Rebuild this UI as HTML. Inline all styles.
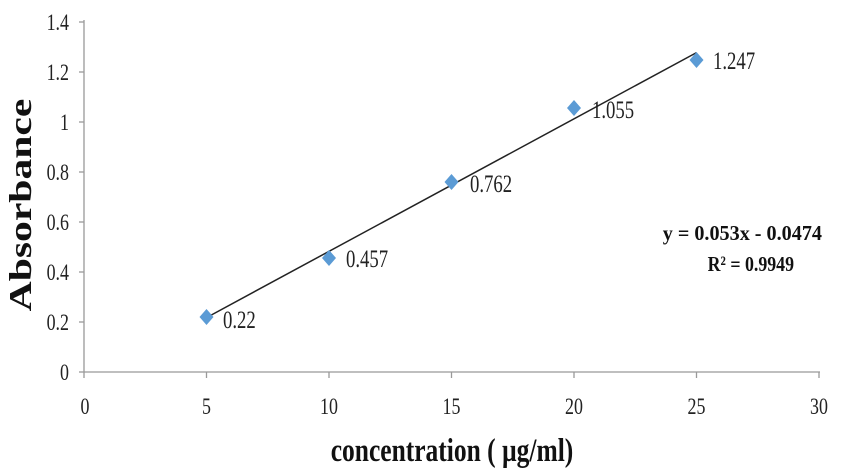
<!DOCTYPE html><html><head><style>body{margin:0;background:#fff}svg text{font-family:"Liberation Serif",serif}</style></head><body>
<svg width="842" height="468" viewBox="0 0 842 468" xmlns="http://www.w3.org/2000/svg">
<g stroke="#999" stroke-width="1.3">
<line x1="84" y1="20" x2="84" y2="372"/><line x1="84" y1="372" x2="820" y2="372"/>
<line x1="79" y1="22" x2="84" y2="22"/><line x1="79" y1="72" x2="84" y2="72"/><line x1="79" y1="122" x2="84" y2="122"/><line x1="79" y1="172" x2="84" y2="172"/><line x1="79" y1="222" x2="84" y2="222"/><line x1="79" y1="272" x2="84" y2="272"/><line x1="79" y1="322" x2="84" y2="322"/><line x1="79" y1="372" x2="84" y2="372"/>
<line x1="84" y1="372" x2="84" y2="378"/><line x1="206.5" y1="372" x2="206.5" y2="378"/><line x1="329" y1="372" x2="329" y2="378"/><line x1="451.5" y1="372" x2="451.5" y2="378"/><line x1="574" y1="372" x2="574" y2="378"/><line x1="696.5" y1="372" x2="696.5" y2="378"/><line x1="819" y1="372" x2="819" y2="378"/>
</g>
<g font-size="23" text-anchor="end" fill="#222">
<text transform="translate(69,30) scale(0.78,1)">1.4</text><text transform="translate(69,80) scale(0.78,1)">1.2</text><text transform="translate(69,130) scale(0.78,1)">1</text><text transform="translate(69,180) scale(0.78,1)">0.8</text><text transform="translate(69,230) scale(0.78,1)">0.6</text><text transform="translate(69,280) scale(0.78,1)">0.4</text><text transform="translate(69,330) scale(0.78,1)">0.2</text><text transform="translate(69,380) scale(0.78,1)">0</text></g>
<g font-size="23" text-anchor="middle" fill="#222">
<text transform="translate(85,414) scale(0.78,1)">0</text><text transform="translate(206.5,414) scale(0.78,1)">5</text><text transform="translate(329,414) scale(0.78,1)">10</text><text transform="translate(451.5,414) scale(0.78,1)">15</text><text transform="translate(574,414) scale(0.78,1)">20</text><text transform="translate(696.5,414) scale(0.78,1)">25</text><text transform="translate(819,414) scale(0.78,1)">30</text></g>
<line x1="206.5" y1="317.6" x2="696.5" y2="52.6" stroke="#222" stroke-width="1.5"/>
<g fill="#5b9bd5">
<path d="M206.5 309 l7 8 -7 8 -7 -8z"/><path d="M329 250 l7 8 -7 8 -7 -8z"/><path d="M451.5 174 l7 8 -7 8 -7 -8z"/><path d="M574 100 l7 8 -7 8 -7 -8z"/><path d="M696.5 52 l7 8 -7 8 -7 -8z"/></g>
<g font-size="25" fill="#222">
<text transform="translate(223,328) scale(0.75,1)">0.22</text><text transform="translate(346,267) scale(0.75,1)">0.457</text><text transform="translate(470,192) scale(0.75,1)">0.762</text><text transform="translate(592,118) scale(0.75,1)">1.055</text><text transform="translate(713,69) scale(0.75,1)">1.247</text></g>
<g font-size="21" font-weight="bold" text-anchor="end" fill="#111">
<text transform="translate(822,240) scale(0.96,1)">y = 0.053x - 0.0474</text><text transform="translate(794,271) scale(0.85,1)">R² = 0.9949</text></g>
<text transform="translate(452,461) scale(0.85,1.1)" font-size="30" font-weight="bold" text-anchor="middle" fill="#111">concentration ( µg/ml)</text>
<text transform="translate(31,205) rotate(-90) scale(1.3,1)" font-size="32" font-weight="bold" text-anchor="middle" fill="#111">Absorbance</text>
</svg></body></html>
